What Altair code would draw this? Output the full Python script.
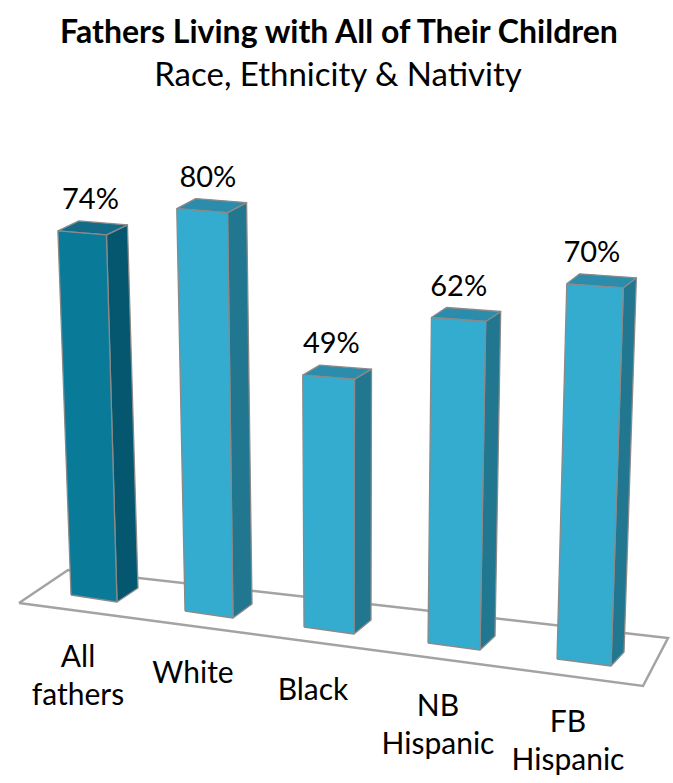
import altair as alt
import pandas as pd

# ---- data -------------------------------------------------------------
categories = ["All fathers", "White", "Black", "NB Hispanic", "FB Hispanic"]
label_lines = ["All\nfathers", "White", "Black", "NB\nHispanic", "FB\nHispanic"]
values = [74, 80, 49, 62, 70]

title_text = "Fathers Living with All of Their Children"
subtitle_text = "Race, Ethnicity & Nativity"

# ---- canvas / perspective layout -------------------------------------
W, H = 673, 783
FONT = "Lato"

# floor of the pseudo-3D box (front-left, back-left, back-right, front-right)
FLOOR = [(19, 603), (68, 570), (668, 638), (643, 686)]

# face colours: (front, side, top) for the highlighted bar and the others
HILITE = ("#0a7a99", "#05566f", "#136b87")
NORMAL = ("#34acd0", "#217690", "#2b8cab")
EDGE = "#8a8a8a"


def bar_geometry(i, v):
    """Corner points of the three visible faces of bar i with value v."""
    bx = 71 + 114 * i + 2.5 * i * (i - 1)      # bottom-left of front face
    by = 595 + 16 * i
    w = 46 + 2 * i                             # front face width
    h = v * (4.92 + 0.11 * i)                  # pixels per percent grows toward viewer
    lean_l = h * (-0.036 + 0.0155 * i)         # verticals converge downward
    lean_r = lean_l + 0.007 * h
    dx = 21 - 2 * i                            # depth offset of the side/top faces
    bl = (bx, by)
    br = (bx + w, by + 7)
    tl = (bx + lean_l, by - h)
    tr = (bx + w + lean_r, by - h + 4)
    side = [br, (br[0] + dx, br[1] - 14), (tr[0] + dx, tr[1] - 10), tr]
    top = [tl, tr, (tr[0] + dx, tr[1] - 10), (tl[0] + dx, tl[1] - 10)]
    front = [bl, br, tr, tl]
    return front, side, top, (bx, by, w, lean_l, tl, dx)


poly_rows, value_rows, cat_rows = [], [], []
for i, (cat, lab, v) in enumerate(zip(categories, label_lines, values)):
    front, side, top, (bx, by, w, lean_l, tl, dx) = bar_geometry(i, v)
    cols = HILITE if i == 0 else NORMAL
    for face, pts, col in (("side", side, cols[1]), ("top", top, cols[2]), ("front", front, cols[0])):
        ring = pts + [pts[0]]
        for k, (x, y) in enumerate(ring):
            poly_rows.append({"poly": f"{i}-{face}", "k": k, "x": x, "y": y, "fill": col})
    value_rows.append({"x": bx + w / 2 + lean_l / 2 + 3, "y": tl[1] - 22, "text": f"{v}%"})
    cat_rows.append({"x": bx + w / 2 - 16, "y": 667 + 16.25 * i, "text": lab})

floor_rows = [{"k": k, "x": x, "y": y} for k, (x, y) in enumerate(FLOOR + [FLOOR[0]])]

xs = alt.Scale(domain=[0, W], nice=False, zero=False)
ys = alt.Scale(domain=[0, H], nice=False, zero=False, reverse=True)
X = alt.X("x:Q", scale=xs, axis=None)
Y = alt.Y("y:Q", scale=ys, axis=None)

floor = alt.Chart(pd.DataFrame(floor_rows)).mark_line(
    filled=True, fill="white", stroke="#a3a3a3", strokeWidth=2.5, strokeJoin="miter"
).encode(x=X, y=Y, order="k:Q")

bars = alt.Chart(pd.DataFrame(poly_rows)).mark_line(
    filled=True, stroke=EDGE, strokeWidth=1.3, strokeJoin="round"
).encode(
    x=X, y=Y, order="k:Q", detail="poly:N",
    color=alt.Color("fill:N", scale=None, legend=None),
)

value_labels = alt.Chart(pd.DataFrame(value_rows)).mark_text(
    font=FONT, fontSize=29, color="black", align="center", baseline="alphabetic"
).encode(x=X, y=Y, text="text:N")

cat_labels = alt.Chart(pd.DataFrame(cat_rows)).mark_text(
    font=FONT, fontSize=30, color="black", align="center", baseline="alphabetic",
    lineBreak="\n", lineHeight=38
).encode(x=X, y=Y, text="text:N")

title = alt.Chart(pd.DataFrame([{"x": 339, "y": 43, "text": title_text}])).mark_text(
    font=FONT, fontSize=32, fontWeight="bold", color="black", align="center", baseline="alphabetic"
).encode(x=X, y=Y, text="text:N")

subtitle = alt.Chart(pd.DataFrame([{"x": 338, "y": 86, "text": subtitle_text}])).mark_text(
    font=FONT, fontSize=33, color="black", align="center", baseline="alphabetic"
).encode(x=X, y=Y, text="text:N")

chart = alt.layer(floor, bars, value_labels, cat_labels, title, subtitle).properties(
    width=W, height=H, autosize=alt.AutoSizeParams(type="none"), padding=0,
    background="white",
).configure_view(stroke=None)

chart.save("out.html", embed_options={"renderer": "svg", "actions": False})
